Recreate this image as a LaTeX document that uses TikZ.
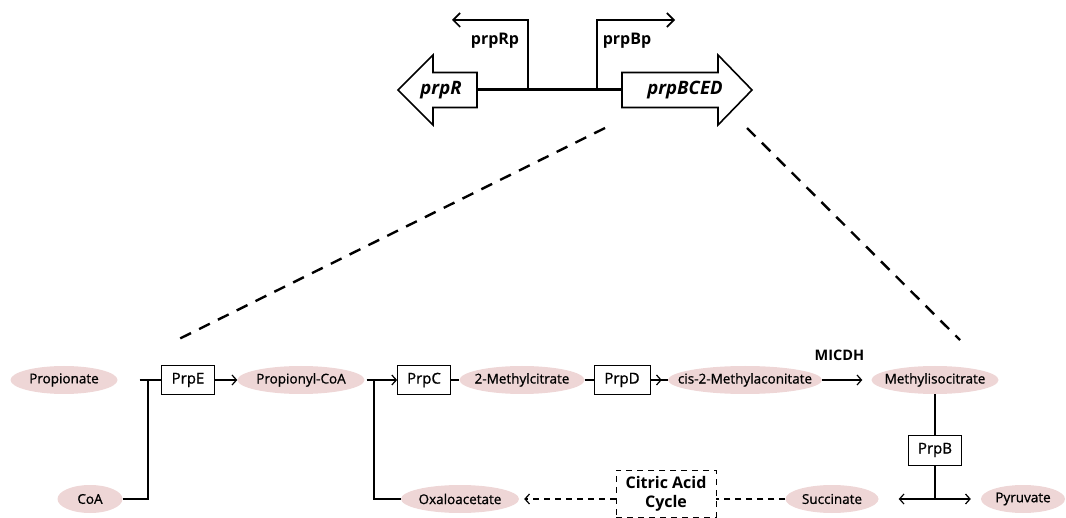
\documentclass[tikz,border=0pt]{standalone}
\usepackage{xcolor}
\usepackage{tikz}
\usepackage{fontspec}
\setmainfont{Open Sans}
\newfontfamily\medioFont{Open Sans}[FakeBold=0.9]
\usetikzlibrary{shapes.geometric, arrows.meta}

\begin{document}
\begin{tikzpicture}[x=1pt, y=-1pt,
  metab/.style={ellipse, fill=rosaSuave, inner xsep=-40pt, inner ysep=0pt, minimum height=28pt, font=\medioFont\fontsize{13.5}{15}\selectfont},
  enz/.style={rectangle, draw, line width=0.8pt, minimum width=53pt, minimum height=29pt, inner sep=1pt, font=\medioFont\fontsize{15}{17}\selectfont},
  link/.style={line width=1.2pt},
  flecha/.style={-{Straight Barb[length=4.5pt,width=10pt]}},
  punteada/.style={dash pattern=on 6pt off 5pt},
  gene/.style={draw, line width=1.6pt, fill=white, line join=miter},
  genetxt/.style={font=\fontsize{18.5}{20}\selectfont\bfseries\itshape},
  promtxt/.style={font=\fontsize{16}{18}\selectfont\bfseries}]
  \definecolor{rosaSuave}{RGB}{238,214,214}
  \useasboundingbox (0,0) rectangle (1066,518);

  % operon
  \draw[gene] (398,90) -- (433,55) -- (433,72.5) -- (477,72.5) -- (477,107.5) -- (433,107.5) -- (433,125) -- cycle;
  \draw[gene] (622,72.5) -- (718,72.5) -- (718,55) -- (752,90) -- (718,125) -- (718,107.5) -- (622,107.5) -- cycle;
  \node[genetxt] (prpR) at (441,90) {prpR};
  \node[genetxt] (prpBCED) at (685,90) {prpBCED};
  \coordinate (rEnd) at (477,90);
  \coordinate (bEnd) at (622,90);
  \draw[line width=3pt] (rEnd) -- (bEnd);

  \coordinate (pR) at (528,90);
  \coordinate (pRtip) at (452,20);
  \coordinate (pB) at (597,90);
  \coordinate (pBtip) at (675,20);
  \draw[line width=1.6pt, -{Straight Barb[length=7pt,width=14pt]}] (pR) |- (pRtip);
  \draw[line width=1.6pt, -{Straight Barb[length=7pt,width=14pt]}] (pB) |- (pBtip);
  \node[promtxt] (prpRp) at (495,41) {prpRp};
  \node[promtxt] (prpBp) at (627,41) {prpBp};

  % zoom lines
  \coordinate (zA) at (605,128);
  \coordinate (zB) at (177,340);
  \coordinate (zC) at (747,128);
  \coordinate (zD) at (960,340);
  \draw[line width=2.4pt, dash pattern=on 12pt off 9pt] (zA) -- (zB);
  \draw[line width=2.4pt, dash pattern=on 12pt off 9pt] (zC) -- (zD);

  % pathway
  \node[metab, minimum width=107pt] (propionate) at (64,380) {Propionate};
  \node[metab, minimum width=65pt] (coA) at (90,499) {CoA};
  \node[enz] (prpE) at (188,380) {PrpE};
  \node[metab, minimum width=127pt] (propCoA) at (301,380) {Propionyl-CoA};
  \node[enz] (prpC) at (424,380) {PrpC};
  \node[metab, minimum width=125pt] (meCit) at (522,380) {2-Methylcitrate};
  \node[enz, minimum width=56pt] (prpD) at (622,380) {PrpD};
  \node[metab, minimum width=154pt] (aconit) at (745,380) {cis-2-Methylaconitate};
  \node[metab, minimum width=127pt] (meIso) at (935,380) {Methylisocitrate};
  \node[enz, minimum height=30pt] (prpB) at (935,450) {PrpB};
  \node[metab, minimum width=118pt] (oxalo) at (460,499) {Oxaloacetate};
  \node[metab, minimum width=93pt] (succ) at (832,499) {Succinate};
  \node[metab, minimum width=84pt] (pyr) at (1023,499) {Pyruvate};
  \node[draw, punteada, line width=0.9pt, minimum width=100pt, minimum height=47pt, align=center, inner sep=1pt,
        font=\fontsize{16}{19}\selectfont\bfseries] (tca) at (666,493.5) {Citric Acid\\Cycle};

  \coordinate (joinE) at (148,380);
  \coordinate (joinC) at (374,380);
  \coordinate (joinB) at (935,499);

  \draw[link, shorten <=22pt] (propionate) -- (prpE);
  \draw[link] (coA) -| (joinE);
  \draw[link, flecha] (prpE) -- (propCoA);
  \draw[link, flecha, shorten <=2pt] (propCoA) -- (prpC);
  \draw[link] (oxalo) -| (joinC);
  \draw[link] (prpC) -- (meCit);
  \draw[link] (meCit) -- (prpD);
  \draw[link, flecha, shorten >=6pt] (prpD) -- (aconit);
  \draw[link, shorten <=6pt] (prpD) -- (aconit);
  \draw[link, flecha, shorten >=9pt] (aconit) -- (meIso)
    node[pos=0.35, above=15pt, font=\fontsize{14.5}{16}\selectfont\bfseries] {MICDH};
  \draw[link] (meIso) -- (prpB);
  \draw[link] (prpB) -- (joinB);
  \draw[link, flecha, shorten >=20pt] (joinB) -- (succ);
  \draw[link, flecha, shorten >=10pt] (joinB) -- (pyr);
  \draw[link, punteada] (succ) -- (succ -| tca.east);
  \draw[link, punteada, flecha, shorten >=5pt] (oxalo -| tca.west) -- (oxalo);
\end{tikzpicture}
\end{document}
